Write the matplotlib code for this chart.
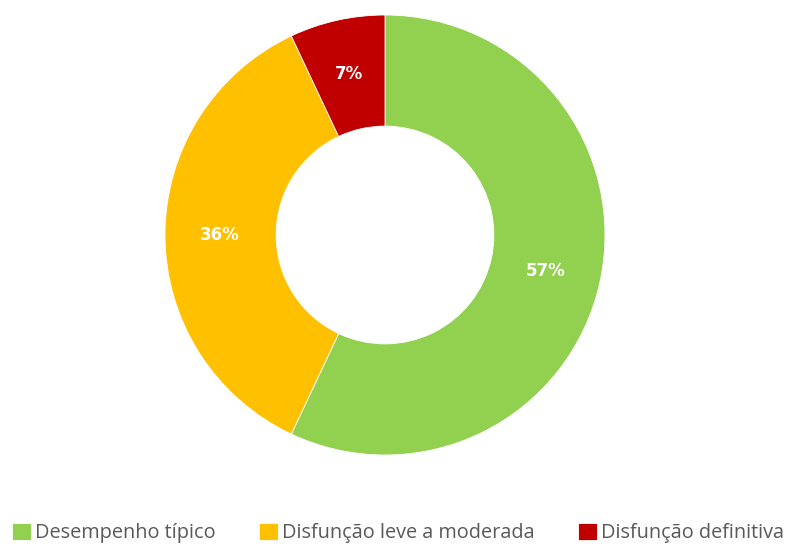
import matplotlib
matplotlib.use("Agg")
import matplotlib.pyplot as plt

categories = ["Desempenho típico", "Disfunção leve a moderada", "Disfunção definitiva"]
values = [57, 36, 7]
colors = ["#92D050", "#FFC000", "#C00000"]

fig = plt.figure(figsize=(7.9, 5.47), dpi=100)
ax = fig.add_axes([165/790, 92/547, 440/790, 440/547])

wedges, texts, autotexts = ax.pie(
    values, colors=colors, startangle=90, counterclock=False,
    radius=1.0, wedgeprops=dict(width=0.505, edgecolor="white", linewidth=0.6),
    autopct=lambda p: f"{p:.0f}%", pctdistance=0.75,
    textprops=dict(color="white", fontsize=12, fontweight="bold", family="DejaVu Sans"),
)
ax.set_xlim(-1, 1)
ax.set_ylim(-1, 1)
ax.set_aspect("equal")
ax.axis("off")

leg = fig.legend(wedges, categories, loc="center", bbox_to_anchor=(398/790, 14/547),
                 ncol=3, frameon=False, handlelength=0.95, handleheight=0.95,
                 handletextpad=0.2, columnspacing=2.2, borderpad=0, borderaxespad=0,
                 prop=dict(family="Open Sans", size=14.3))
for t in leg.get_texts():
    t.set_color("#595959")

fig.savefig("out.png", dpi=100)
